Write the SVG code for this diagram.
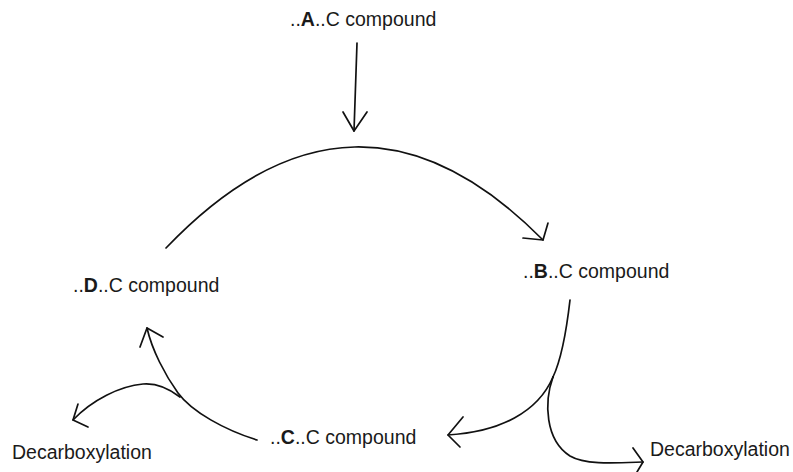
<svg xmlns="http://www.w3.org/2000/svg" width="793" height="472" viewBox="0 0 793 472">
<style>
text{font-family:"Liberation Sans",Arial,sans-serif;font-size:19.5px;fill:#1a1a1a}
.b{font-weight:bold}
.c{fill:none;stroke:#111;stroke-width:1.7;stroke-linecap:round;stroke-linejoin:round}
</style>
<rect width="793" height="472" fill="#fff"/>
<g id="nodeA"><text x="290" y="26">..<tspan class="b">A</tspan>..C compound</text></g>
<g id="nodeB"><text x="523" y="278">..<tspan class="b">B</tspan>..C compound</text></g>
<g id="nodeC"><text x="270" y="444">..<tspan class="b">C</tspan>..C compound</text></g>
<g id="nodeD"><text x="73" y="292">..<tspan class="b">D</tspan>..C compound</text></g>
<g id="decarbLeft"><text x="12" y="459">Decarboxylation</text></g>
<g id="decarbRight"><text x="650" y="456">Decarboxylation</text></g>
<g id="connectors" class="c">
<path class="c" d="M357,43 L354,131"/>
<path class="c" d="M343,112 L354,131 L367,112"/>
<path class="c" d="M166,248 Q355,50 543,240"/>
<path class="c" d="M548,223 L543,240 L523,238"/>
<path class="c" d="M570,300 C566,335 561,360 553,377"/>
<path class="c" d="M553,377 C538,412 500,432 448,435"/>
<path class="c" d="M463,417 L448,435 L460,447"/>
<path class="c" d="M553,377 C544,402 545,440 570,456 C585,465 615,463 643,462"/>
<path class="c" d="M633,448 L643,462 L637,472"/>
<path class="c" d="M257,440 C225,430 192,412 178,393 C165,375 152,350 147,328"/>
<path class="c" d="M140,347 L147,328 L163,337"/>
<path class="c" d="M180,397 C167,387 155,383 143,384 C120,386 92,400 73,420"/>
<path class="c" d="M78,404 L73,420 L88,427"/>
</g>
</svg>
